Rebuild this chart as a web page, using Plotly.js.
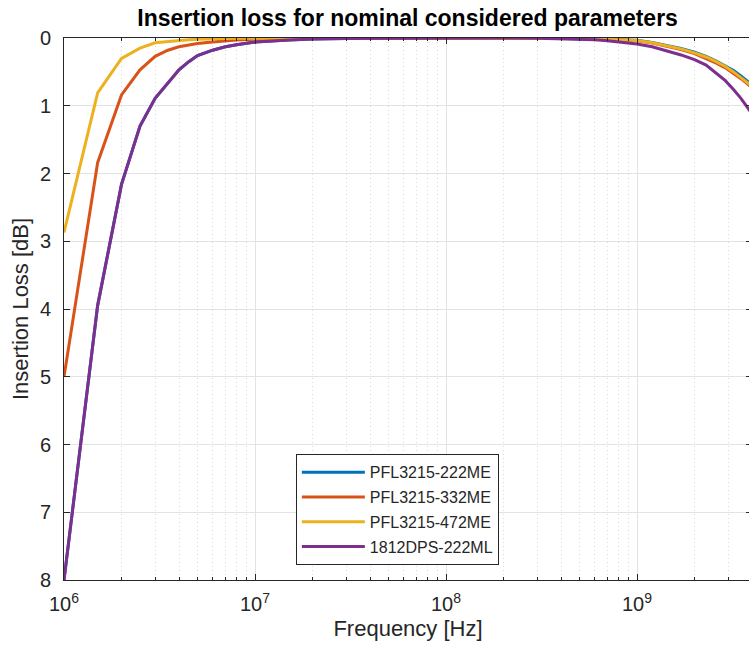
<!DOCTYPE html>
<html>
<head>
<meta charset="utf-8">
<script src="https://cdn.plot.ly/plotly-3.0.1.min.js"></script>
<style>html,body{margin:0;padding:0;overflow:hidden;background:#fff;}#chart{width:752px;height:651px;}</style>
</head>
<body>
<div id="chart"></div>
<script>
// Frequency samples [Hz]
const freq = [1e6, 1.5e6, 2e6, 2.5e6, 3e6, 3.5e6, 4e6, 4.5e6, 5e6, 6e6, 7e6, 8e6, 1e7, 1.5e7, 2e7, 3e7, 5e7,
  1e8, 2e8, 3e8, 4e8, 5e8, 6e8, 7e8, 8e8, 1e9, 1.2e9, 1.43e9, 1.7e9, 2e9, 2.3e9, 2.6e9, 2.9e9, 3.2e9, 3.5e9, 3.8e9, 4e9];
// Insertion loss [dB]
const il_222ME = [8.0, 3.95, 2.16, 1.30, 0.89, 0.66, 0.47, 0.35, 0.26, 0.18, 0.13, 0.10, 0.06, 0.03, 0.015, 0.006, 0.002,
  0.0, 0.0, 0.0, 0.003, 0.007, 0.012, 0.018, 0.025, 0.035, 0.065, 0.105, 0.155, 0.21, 0.27, 0.34, 0.41, 0.48, 0.56, 0.64, 0.69];
const il_332ME = [5.0, 1.84, 0.84, 0.47, 0.27, 0.18, 0.13, 0.10, 0.08, 0.06, 0.04, 0.03, 0.02, 0.01, 0.005, 0.002, 0.0,
  0.0, 0.0, 0.0, 0.003, 0.008, 0.014, 0.02, 0.028, 0.04, 0.075, 0.12, 0.17, 0.23, 0.30, 0.37, 0.44, 0.52, 0.60, 0.68, 0.74];
const il_472ME = [2.87, 0.81, 0.30, 0.15, 0.07, 0.05, 0.035, 0.025, 0.02, 0.012, 0.008, 0.005, 0.003, 0.001, 0.0, 0.0, 0.0,
  0.0, 0.0, 0.0, 0.003, 0.008, 0.013, 0.019, 0.026, 0.037, 0.07, 0.11, 0.16, 0.22, 0.28, 0.35, 0.42, 0.50, 0.58, 0.66, 0.71];
const il_1812 = [8.0, 3.95, 2.16, 1.30, 0.89, 0.66, 0.47, 0.35, 0.26, 0.18, 0.13, 0.10, 0.06, 0.03, 0.015, 0.006, 0.002,
  0.0, 0.0, 0.004, 0.01, 0.018, 0.027, 0.04, 0.055, 0.09, 0.13, 0.19, 0.25, 0.32, 0.40, 0.52, 0.63, 0.76, 0.89, 1.03, 1.12];
const seriesNames = ['PFL3215-222ME', 'PFL3215-332ME', 'PFL3215-472ME', '1812DPS-222ML'];
const seriesColors = ['#0072BD', '#D95319', '#EDB120', '#7E2F8E'];
const xTickVals = [1e6, 1e7, 1e8, 1e9];
const xTickText = ['10<sup>6</sup>', '10<sup>7</sup>', '10<sup>8</sup>', '10<sup>9</sup>'];
const yTickVals = [0, 1, 2, 3, 4, 5, 6, 7, 8];

const minorVals = [];
for (let d = 6; d <= 9; d++) for (let m = 2; m <= 9; m++) minorVals.push(m * Math.pow(10, d));

const ys = [il_222ME, il_332ME, il_472ME, il_1812];
const traces = ys.map((y, i) => ({
  x: freq, y: y, type: 'scatter', mode: 'lines', name: seriesNames[i], legendgroup: 'g' + i,
  line: {color: seriesColors[i], width: 3}
}));

const axisColor = '#262626';
const font = 'Liberation Sans, Arial, Helvetica, sans-serif';
const layout = {
  width: 752, height: 651,
  margin: {l: 64, r: 0, t: 38, b: 71},
  paper_bgcolor: '#fff', plot_bgcolor: '#fff',
  font: {family: font, color: axisColor},
  title: {text: '<b>Insertion loss for nominal considered parameters</b>', font: {size: 23, color: '#000'}, x: 0.542, xanchor: 'center', y: 0.972, yanchor: 'middle'},
  showlegend: true,
  legend: {x: 0.337, y: 0.232, xanchor: 'left', yanchor: 'top', bgcolor: '#fff', bordercolor: axisColor, borderwidth: 1,
    font: {size: 16, color: axisColor}, tracegroupgap: 1, itemwidth: 63},
  xaxis: {
    type: 'log', range: [6, 9.602],
    tickvals: xTickVals, ticktext: xTickText, tickfont: {size: 20, color: axisColor},
    ticks: 'inside', ticklen: 6, tickcolor: axisColor, ticklabelstandoff: 6,
    showline: true, linecolor: axisColor, linewidth: 1, mirror: 'ticks',
    showgrid: true, gridcolor: '#e3e3e3', gridwidth: 1,
    minor: {tickvals: minorVals, showgrid: true, gridcolor: '#d9d9d9', griddash: '1px,3px', gridwidth: 1, ticks: 'inside', ticklen: 3, tickcolor: axisColor},
    zeroline: false,
    title: {text: 'Frequency [Hz]', font: {size: 22, color: axisColor}, standoff: 6}
  },
  yaxis: {
    range: [8, 0], tickvals: yTickVals, tickfont: {size: 20, color: axisColor},
    ticks: 'inside', ticklen: 6, tickcolor: axisColor, ticklabelstandoff: 8,
    showline: true, linecolor: axisColor, linewidth: 1, mirror: 'ticks',
    showgrid: true, gridcolor: '#e3e3e3', gridwidth: 1, zeroline: false,
    title: {text: 'Insertion Loss [dB]', font: {size: 22, color: axisColor}, standoff: 5}
  }
};
Plotly.newPlot('chart', traces, layout, {displayModeBar: false, staticPlot: true});
</script>
</body>
</html>
